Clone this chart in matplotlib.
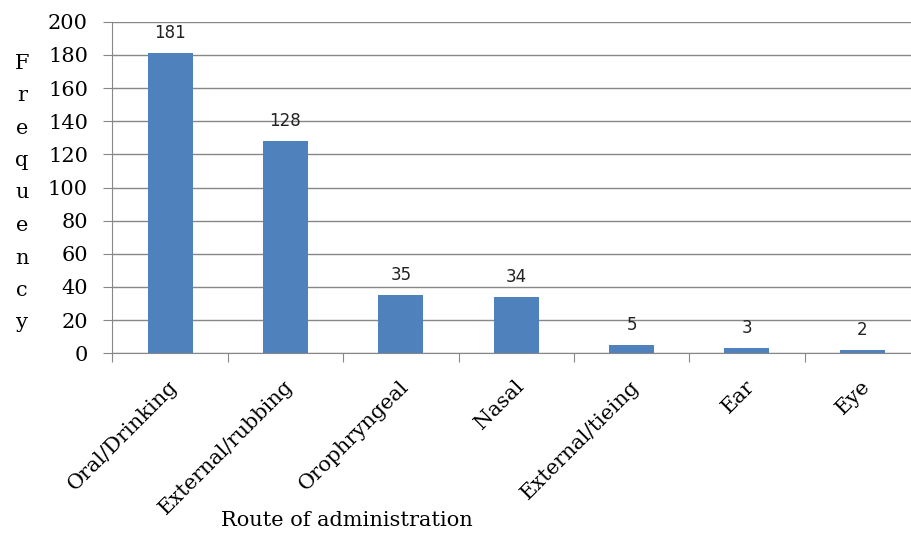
import numpy as np
import matplotlib.pyplot as plt
from matplotlib.transforms import ScaledTranslation

# ---------- data ----------
routes = ["Oral/Drinking", "External/rubbing", "Orophryngeal", "Nasal",
          "External/tieing", "Ear", "Eye"]
freq = [181, 128, 35, 34, 5, 3, 2]
y_ticks = list(range(0, 201, 20))

# ---------- figure ----------
plt.rcParams['font.family'] = ['DejaVu Serif']
fig = plt.figure(figsize=(9.12, 5.45), dpi=100)
ax = fig.add_axes([0.1232, 0.3517, 0.8856, 0.6085])

x = np.arange(len(routes))
ax.bar(x, freq, width=0.39, color='#4F81BD', zorder=3)

# value labels above bars
for xi, v in zip(x, freq):
    ax.annotate(str(v), (xi, v), xytext=(0, 8), textcoords='offset points',
                ha='center', va='bottom', fontsize=12, family='DejaVu Sans',
                color='#222222', zorder=4)

ax.set_xlim(-0.5, len(routes) - 0.5)
ax.set_ylim(0, 200)
ax.set_yticks(y_ticks)
ax.yaxis.grid(True, color='#878787', linewidth=1.0, zorder=0)
ax.tick_params(axis='y', length=6.5, color='#878787', labelsize=15, pad=11)

# x ticks at category boundaries, labels at centres
ax.set_xticks(np.arange(len(routes) + 1) - 0.5)
ax.set_xticklabels([])
ax.set_xticks(x, minor=True)
ax.set_xticklabels(routes, minor=True, rotation=45, ha='right',
                   rotation_mode='anchor', fontsize=15)
ax.tick_params(axis='x', which='major', length=6.5, color='#878787')
ax.tick_params(axis='x', which='minor', length=0, pad=17)
shift = ScaledTranslation(-2 / 100, 0, fig.dpi_scale_trans)
for lbl in ax.get_xticklabels(minor=True):
    lbl.set_transform(lbl.get_transform() + shift)

for side in ['top', 'right']:
    ax.spines[side].set_visible(False)
for side in ['left', 'bottom']:
    ax.spines[side].set_color('#878787')

# stacked vertical y label, one letter per line
for i, ch in enumerate("Frequency"):
    fig.text(22 / 912, 1 - (63 + 32.5 * i) / 545, ch, ha='center',
             va='center', fontsize=15)
fig.text(347 / 912, 1 - 520 / 545, "Route of administration", ha='center',
         va='center', fontsize=15)

fig.savefig("out.png", dpi=100)
